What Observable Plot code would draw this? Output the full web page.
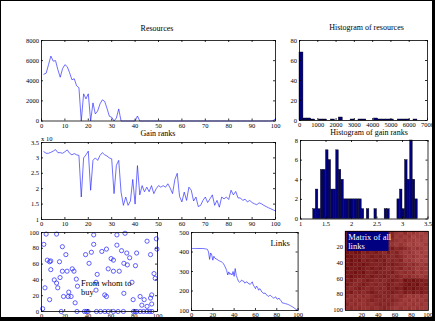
<!DOCTYPE html>
<html><head><meta charset="utf-8">
<script src="https://cdn.jsdelivr.net/npm/d3@7"></script>
<script src="https://cdn.jsdelivr.net/npm/@observablehq/plot@0.6"></script>
<style>
html,body{margin:0;padding:0;background:#fff;overflow:hidden}
#fig{position:relative;width:435px;height:321px;background:#fff;font-family:"Liberation Serif",serif;overflow:hidden}
.ttl{position:absolute;font-size:8px;white-space:nowrap;transform:translate(-50%,-50%);color:#000;line-height:1}
#frame{position:absolute;left:0;top:0;width:435px;height:321px;box-sizing:border-box;border-style:solid;border-color:#000;border-width:1px 3px 4px 1px;pointer-events:none;z-index:10}
</style></head><body><div id="fig"><div id="frame"></div></div>
<script>
// ---------- data ----------
const resources = [4650,4750,5600,6450,5950,6000,5100,4350,5200,5600,
5400,4800,4100,4200,3500,3300,0,2700,2200,2700,
0,1800,700,1000,1700,2100,1950,1250,470,370,
0,300,1200,0,0,0,0,0,0,0,
500,0,0,0,0,0,0,0,0,0,
0,0,0,0,0,0,0,0,0,0,
0,0,0,0,0,0,0,0,0,0,
0,0,0,0,0,0,0,0,0,0,
0,0,0,0,0,0,0,0,0,0,
0,0,0,0,0,0,0,0,50,230];

const gainRanks = [3.2,3.15,3.15,3.18,3.22,3.27,3.17,3.17,3.15,3.2,
3.26,3.15,3.1,3.14,3.1,3.08,1.73,3.0,3.1,3.22,
1.95,2.92,3.0,2.92,3.08,3.17,3.1,3.06,3.0,2.97,
1.84,2.76,2.92,1.89,1.46,1.73,1.46,1.6,2.3,1.5,
2.75,1.8,2.1,1.9,2.05,1.9,2.1,1.84,2.0,2.1,
2.05,2.1,2.05,2.16,2.02,1.84,2.3,2.5,1.75,1.57,
1.89,1.62,2.05,1.95,1.6,1.73,1.42,1.46,1.62,1.73,
1.55,1.67,1.8,1.46,1.62,1.4,1.73,1.67,1.73,1.65,
1.95,1.8,1.91,1.7,1.7,1.62,1.66,1.57,1.62,1.55,
1.51,1.48,1.54,1.51,1.46,1.42,1.38,1.35,1.31,1.28];

const links = [418,418,418,418,418,418,418,418,418,418,
418,417,416,415,413,400,362,395,385,358,
378,368,365,362,358,355,352,350,346,340,
330,318,305,282,298,285,290,282,300,275,
315,280,265,250,245,248,256,252,250,240,
245,247,240,238,233,240,247,230,222,212,
225,218,204,212,205,195,190,187,190,182,
178,172,176,178,172,168,164,166,170,160,
158,164,156,150,140,138,137,135,134,132,
130,127,124,121,118,114,110,106,102,100];

const resHistStart = [0,215,430,645,1075,1290,1720,2150,2795,3225,3440,4085,4300,4515,4730,4945,5375,5590,5805,6235];
const resHistCount = [68,2,2,1,1,1,1,3,1,1,1,2,1,1,1,1,1,1,1,1];
const resBinWidth = 215;

const gainHistStart = [1.25,1.30,1.35,1.40,1.45,1.50,1.55,1.60,1.65,1.70,1.75,1.80,1.85,1.90,1.95,2.00,2.05,2.10,2.15,2.20,2.30,2.45,2.65,2.70,2.90,2.95,3.00,3.05,3.10,3.15,3.20,3.25];
const gainHistCount = [1,3,1,5,5,7,6,3,3,7,5,4,2,2,2,2,2,2,2,1,1,1,1,1,2,3,1,6,4,8,4,2];
const gainBinWidth = 0.05;

const buyX = [4,13,45,65,72, 2,18,45,65,56,91,99,99.5,
21,38,43,52,60,69,73.5,76,82,94,
5,7,8,15.5,41,62,71,74,81,
8,18,22,26.5,28,48,57.5,62,67,97,98,
11,13,16,14,30,31,47,47,78,3,
23.5,19,23,25.5,54.5,56,71,79,85,88.5,94,95,
7,29,86.5,91,95,1,
17,30.6,37,38.7,40.1,47.4,50.9,54.6,57.5,62,66,70.6,79.3,80.7,82.2,85.1,88,90.9,93.2,95.2];
const buyY = [98,98,97,97,99, 85,82,85,84,79,89,92,79,
72,72,75,76,67,77,74,68,74,72,
65,63,64,63,61,65,61,59,58,
53,51,51,54,51,47,54,51,51,48,42,
40,36,43,30,41,32,37,27,37,30,
24.5,19,19,19,21,19,23,15,19,15,17,21,
15,11,8,6.5,9.5,3.5,
0,0,0,0,0,0,0,0,0,0,0,0,0,0,0,0,0,0,0,0];

// link matrix, coarse 20x20 blocks (5x5 agents each), whiteness 0-9
const matrixRows = [
"33333333334467576787",
"33333333335476768778",
"33333333334567677878",
"33333333345676787887",
"22323434344354567678",
"23224343453546767878",
"22334434344545676787",
"32324343435454767878",
"32332344434345565676",
"23323434345454656767",
"33232443444356565767",
"32333434434545656676",
"43454345454345232334",
"34543454543454323243",
"45434545453434232334",
"43545434544345343434",
"56565654454565676767",
"65656545545456767676",
"56566565454567676767",
"65656656545676767677"];

const titles = [
  {text:"Resources", cx:157, cy:29},
  {text:"Histogram of resources", cx:366.5, cy:27.5},
  {text:"Gain ranks", cx:158, cy:134},
  {text:"Histogram of gain ranks", cx:369, cy:133}
];

// ---------- helpers ----------
const fig = document.getElementById("fig");
const FONT = "Liberation Serif";
const fmt = d => String(d);
const LINE = {stroke: "#2020ff", strokeWidth: 0.65};

function ticks(xt, yt, W, H, len = 2) {
  const s = {stroke: "#000", strokeWidth: 0.8};
  return [
    Plot.tickX(xt, {x: d => d, insetTop: H - len, ...s}),
    Plot.tickX(xt, {x: d => d, insetBottom: H - len, ...s}),
    Plot.tickY(yt, {y: d => d, insetRight: W - len, ...s}),
    Plot.tickY(yt, {y: d => d, insetLeft: W - len, ...s})
  ];
}

function panel({box, x, y, xt, yt, marks, inTicks = true}) {
  const [L, T, R, B] = box;
  const W = R - L, H = B - T;
  const m = {l: 26, r: 10, t: 6, b: 12};
  const p = Plot.plot({
    width: W + m.l + m.r, height: H + m.t + m.b,
    marginLeft: m.l, marginRight: m.r, marginTop: m.t, marginBottom: m.b,
    style: {fontFamily: FONT, fontSize: "6.5px", background: "transparent", overflow: "visible", color: "#000"},
    x: {...x, label: null}, y: {...y, label: null},
    marks: [
      ...marks,
      ...(inTicks ? ticks(xt, yt, W, H) : []),
      Plot.frame({stroke: "#000", strokeWidth: 0.8}),
      Plot.axisX(xt, {tickSize: 0, tickPadding: 2, tickFormat: fmt}),
      Plot.axisY(yt, {tickSize: 0, tickPadding: 2.5, tickFormat: fmt})
    ]
  });
  p.style.position = "absolute";
  p.style.left = (L - m.l) + "px";
  p.style.top = (T - m.t) + "px";
  fig.appendChild(p);
}

const tens = [0,10,20,30,40,50,60,70,80,90,100];
const twenties = [0,20,40,60,80,100];

// 1. Resources
const resRows = resources.map((v, i) => ({i: i + 1, v}));
panel({
  box: [41, 40, 275, 120.5],
  x: {domain: [0, 100]}, y: {domain: [0, 8000]},
  xt: tens, yt: [0,2000,4000,6000,8000],
  marks: [Plot.line(resRows, {x: "i", y: "v", ...LINE})]
});

// 2. Histogram of resources
const resBins = resHistStart.map((s, k) => ({s, e: s + resBinWidth, c: resHistCount[k]}));
panel({
  box: [299, 40, 427, 120],
  x: {domain: [0, 7000]}, y: {domain: [0, 80]},
  xt: [0,1000,2000,3000,4000,5000,6000,7000], yt: [0,20,40,60,80],
  marks: [Plot.rect(resBins, {x1: "s", x2: "e", y1: 0, y2: "c", fill: "#000080", stroke: "#000", strokeWidth: 0.4})]
});

// 3. Gain ranks
const gainRows = gainRanks.map((v, i) => ({i: i + 1, v}));
panel({
  box: [41, 142, 275, 219],
  x: {domain: [0, 100]}, y: {domain: [1, 3.5]},
  xt: tens, yt: [1,1.5,2,2.5,3,3.5],
  marks: [Plot.line(gainRows, {x: "i", y: "v", ...LINE})]
});

// 4. Histogram of gain ranks
const gainBins = gainHistStart.map((s, k) => ({s, e: s + gainBinWidth, c: gainHistCount[k]}));
panel({
  box: [300, 140, 427.5, 218.5],
  x: {domain: [1, 3.5]}, y: {domain: [0, 8]},
  xt: [1,1.5,2,2.5,3,3.5], yt: [0,2,4,6,8],
  marks: [Plot.rect(gainBins, {x1: "s", x2: "e", y1: 0, y2: "c", fill: "#000080", stroke: "#000", strokeWidth: 0.4})]
});

// 5. From whom to buy
const buyPts = buyX.map((x, k) => ({x, y: buyY[k]}));
panel({
  box: [41, 232, 157, 311],
  x: {domain: [0, 100]}, y: {domain: [0, 100]},
  xt: twenties, yt: twenties,
  marks: [
    Plot.dot(buyPts, {x: "x", y: "y", r: 2.1, stroke: "#2020ff", strokeWidth: 0.7, fill: "none"}),
    Plot.text(["From whom to\nbuy"], {x: 34, y: 30, text: d => d, textAnchor: "start", lineAnchor: "middle", fontSize: 8.5, lineHeight: 1.05, fill: "#000"})
  ]
});

// 6. Links
const linkRows = links.map((v, i) => ({i: i + 1, v}));
panel({
  box: [190.7, 232, 297.3, 310],
  x: {domain: [0, 100]}, y: {domain: [100, 500]},
  xt: twenties, yt: [100,200,300,400,500],
  marks: [
    Plot.line(linkRows, {x: "i", y: "v", ...LINE}),
    Plot.text(["Links"], {x: 74, y: 444, text: d => d, textAnchor: "start", fontSize: 8.5, fill: "#000"})
  ]
});

// 7. Matrix of all links
const shade = d3.interpolateRgb("#5e0000", "#b04c4c");
const cells = [];
matrixRows.forEach((row, r) => row.split("").forEach((ch, c) => {
  cells.push({x1: c * 5 + 0.5, x2: c * 5 + 5.5, y1: r * 5 + 0.5, y2: r * 5 + 5.5, v: +ch});
}));
const matrixLabel = [{x1: 2.6, x2: 53, y1: 0.9, y2: 25.7, tx: 3.8, ty: 13, text: "Matrix of all\nlinks"}];
panel({
  box: [345, 230.5, 428, 309.5],
  x: {domain: [0.5, 100.5]}, y: {domain: [0.5, 100.5], reverse: true},
  xt: [20,40,60,80,100], yt: [20,40,60,80,100],
  inTicks: false,
  marks: [
    Plot.rect(cells, {x1: "x1", x2: "x2", y1: "y1", y2: "y2", fill: d => shade(d.v / 9), stroke: d => shade(d.v / 9), strokeWidth: 0.3}),
    Plot.rect(matrixLabel, {x1: "x1", x2: "x2", y1: "y1", y2: "y2", fill: "#000080"}),
    Plot.text(matrixLabel, {x: "tx", y: "ty", text: "text", textAnchor: "start", lineAnchor: "middle", fontSize: 8.5, lineHeight: 1.1, fill: "#fff"})
  ]
});

// titles
for (const t of titles) {
  const s = document.createElement("span");
  s.className = "ttl"; s.textContent = t.text;
  s.style.left = t.cx + "px"; s.style.top = t.cy + "px";
  fig.appendChild(s);
}
// exponent marker for gain ranks
const ex = document.createElement("span");
ex.textContent = "x 10";
ex.style.cssText = "position:absolute;left:41px;top:136px;font-size:6.5px;line-height:1;white-space:nowrap";
fig.appendChild(ex);
</script></body></html>
